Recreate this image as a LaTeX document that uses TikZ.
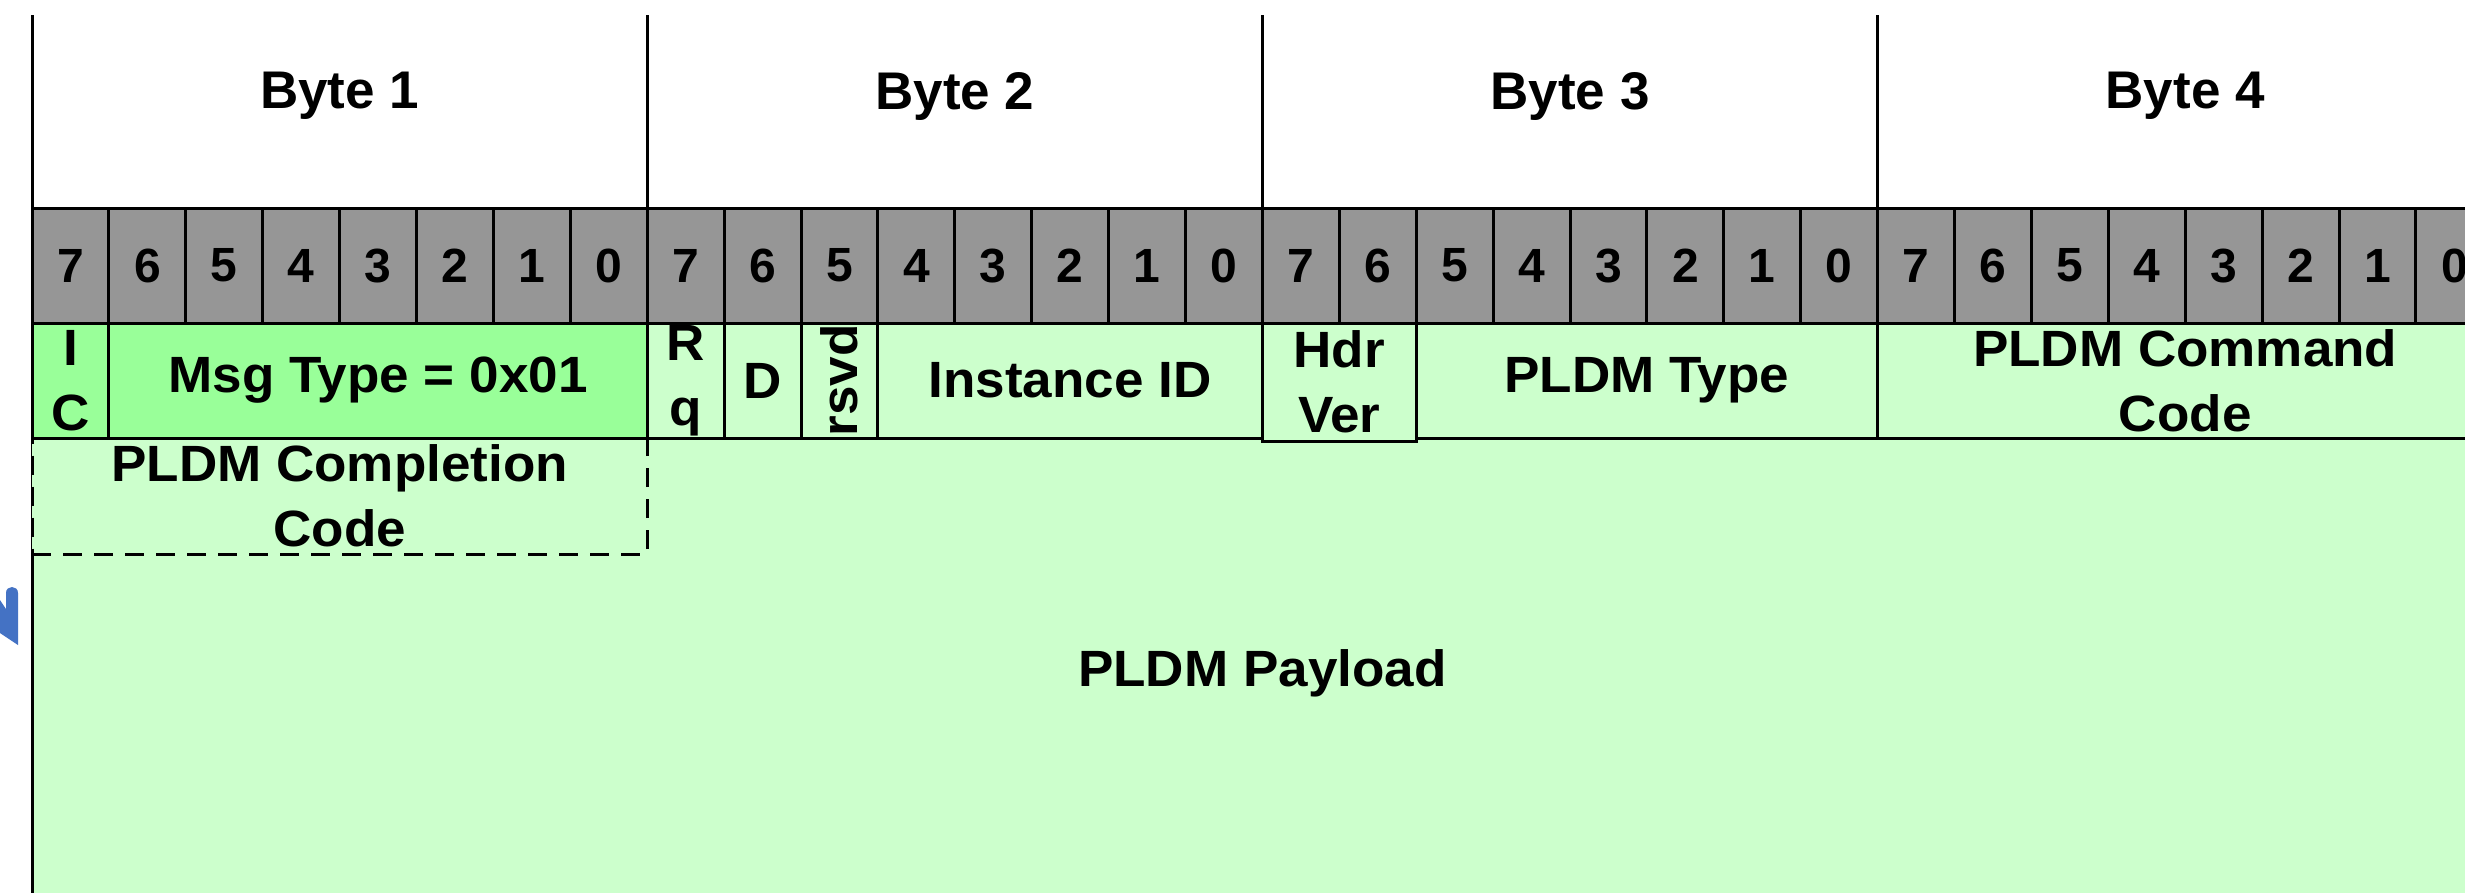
\documentclass[tikz,border=0pt]{standalone}
\usepackage{fontspec}
\setmainfont{Liberation Sans}
\newfontfamily\fieldfont[FakeStretch=1.04]{Liberation Sans}
\definecolor{bitgray}{HTML}{969696}
\definecolor{hdrgreen}{HTML}{99FF99}
\definecolor{paygreen}{HTML}{CCFFCC}
\definecolor{arrowblue}{HTML}{4472C4}
% one field cell: name, x0, x1, y0, y1, style, text (coordinates in pixels)
\newcommand\fieldcell[7]{%
  \node[#6, minimum width={(#3-#2)*0.25pt}, minimum height={(#5-#4)*0.25pt}]
    (#1) at ({(#2+#3)/2},{(#4+#5)/2}) {#7};}
\begin{document}
\begin{tikzpicture}[x=0.25pt, y=-0.25pt, line width=0.75pt,
  fieldbase/.style={rectangle, draw=black, inner sep=0pt, align=center,
    font=\fieldfont\fontsize{12.75}{16.2}\selectfont\bfseries},
  bitcell/.style={fieldbase, fill=bitgray, font=\fontsize{12}{14}\selectfont\bfseries},
  hdrcell/.style={fieldbase, fill=hdrgreen},
  pldmcell/.style={fieldbase, fill=paygreen},
  optcell/.style={fieldbase, fill=paygreen, dash pattern=on 4.75pt off 3pt},
  bytelabel/.style={inner sep=0pt, font=\fontsize{13.25}{16}\selectfont\bfseries}]
\useasboundingbox (0,0) rectangle (2465,892);
\fill[white] (0,0) rectangle (2465,892);

% bit geometry
\def\xo{32}
\def\bw{76.9}

% payload area and optional completion code
\fieldcell{payload}{32}{2492.8}{438}{908}{pldmcell}{PLDM Payload}
\fieldcell{ccode}{32}{647.2}{438}{554}{optcell}{PLDM Completion\\Code}

% byte headings
\foreach \b in {0,...,3}{
  \pgfmathsetmacro\bx{\xo+8*\b*\bw}
  \pgfmathsetmacro\bc{\xo+(8*\b+4)*\bw}
  \pgfmathtruncatemacro\bn{\b+1}
  \draw (\bx,15) -- (\bx,208);
  \node[bytelabel] (byte\bn) at (\bc,96) {Byte \bn};
}

% bit numbers
\foreach \i in {0,...,31}{
  \pgfmathsetmacro\xa{\xo+\i*\bw}
  \pgfmathsetmacro\xb{\xo+(\i+1)*\bw}
  \pgfmathtruncatemacro\bitno{7-mod(\i,8)}
  \fieldcell{bit\i}{\xa}{\xb}{208}{323}{bitcell}{\bitno}
}

% header fields
\fieldcell{ic}{32}{108.9}{323}{438}{hdrcell}{I\\C}
\fieldcell{msgtype}{108.9}{647.2}{323}{438}{hdrcell}{Msg Type = 0x01}
\fieldcell{rq}{647.2}{724.1}{323}{438}{pldmcell}{R\\q}
\fieldcell{dbit}{724.1}{801.0}{323}{438}{pldmcell}{D}
\fieldcell{rsvd}{801.0}{877.9}{323}{438}{pldmcell}{}
\node[rotate=90, inner sep=0pt, font=\fieldfont\fontsize{12.75}{16}\selectfont\bfseries]
  (rsvdtext) at (rsvd.center) {rsvd};
\fieldcell{instid}{877.9}{1262.4}{323}{438}{pldmcell}{Instance ID}
\fieldcell{pldmtype}{1416.2}{1877.6}{323}{438}{pldmcell}{PLDM Type}
\fieldcell{hdrver}{1262.4}{1416.2}{323}{441}{pldmcell}{Hdr\\Ver}
\fieldcell{cmdcode}{1877.6}{2492.8}{323}{438}{pldmcell}{PLDM Command\\Code}

% tail of an arrow at the left margin
\fill[arrowblue] (0,600) -- (6,609) -- (6,593)
  .. controls (6,585) and (18,585) .. (18,593) -- (18,645) -- (0,633) -- cycle;
\end{tikzpicture}
\end{document}
